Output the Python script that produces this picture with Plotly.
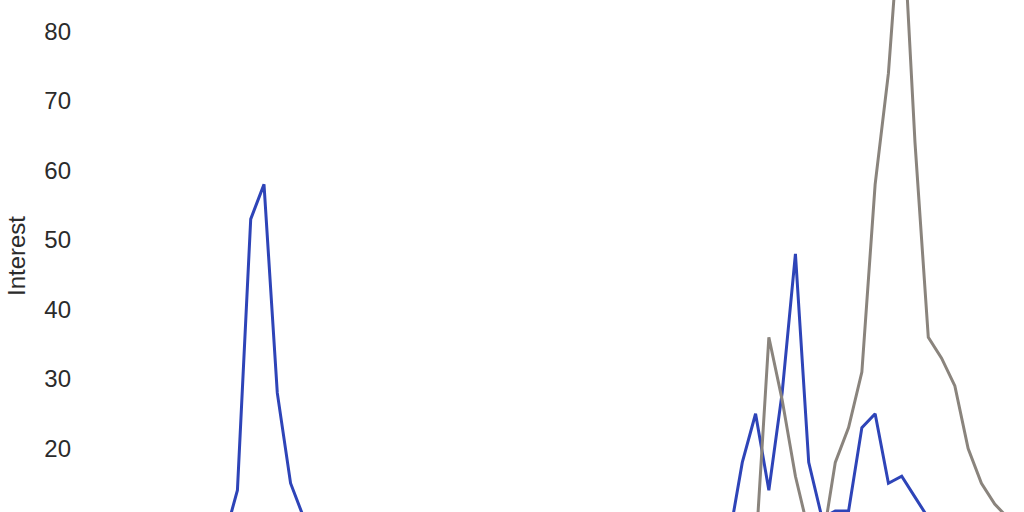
import plotly.graph_objects as go

# weekly index, values from the picture (hidden parts are low and off-range)
weeks = list(range(71))

blue_vals = [3, 3, 4, 3, 4, 4, 5, 4, 5, 5, 6,
             7, 14, 53, 58, 28, 15, 10,
             8, 7, 6, 6, 5, 5, 5, 4, 5, 4, 4, 5, 5, 4, 5, 5, 6, 5, 4, 4, 5, 4, 5, 5, 4, 5, 6, 5, 6, 6, 5,
             7, 18, 25, 14, 28, 48, 18, 10, 11, 11, 23, 25, 15, 16, 13, 10,
             8, 7, 6, 6, 5, 5]

gray_vals = [2, 2, 1, 2, 2, 2, 3, 2, 2, 2,
             3, 3, 4, 4, 3, 3, 3, 2, 2, 2,
             2, 2, 2, 2, 2, 2, 2, 2, 2, 2,
             2, 3, 2, 2, 2, 2, 3, 3, 2, 3,
             3, 3, 3, 3, 3, 4, 3, 4, 4, 4,
             4,
             5, 36, 27, 16, 8, 6, 18, 23, 31, 58, 74, 100, 64, 36, 33, 29, 20, 15, 12, 10]

font_name = "Liberation Sans"
txt_col = "#2b2b2b"

fig = go.Figure()
fig.add_trace(go.Scatter(x=weeks, y=blue_vals, mode="lines", name="term 1",
                         line=dict(color="#2e44b8", width=3)))
fig.add_trace(go.Scatter(x=weeks, y=gray_vals, mode="lines", name="term 2",
                         line=dict(color="#8a847d", width=3)))

fig.update_layout(
    width=1024, height=512,
    margin=dict(l=78, r=16, t=0, b=0),
    paper_bgcolor="white", plot_bgcolor="white",
    showlegend=False,
    font=dict(family=font_name, size=24, color=txt_col),
)
fig.update_xaxes(range=[0, 70], showgrid=False, zeroline=False, showline=False,
                 showticklabels=False)
fig.update_yaxes(range=[10.86, 84.53], dtick=10, showgrid=False, zeroline=False,
                 showline=False, ticklabelstandoff=6,
                 title=dict(text="Interest", font=dict(size=24), standoff=11),
                 tickfont=dict(size=24))

fig.write_html("out.html", config={"displayModeBar": False},
               post_script="document.body.style.margin='0';")
